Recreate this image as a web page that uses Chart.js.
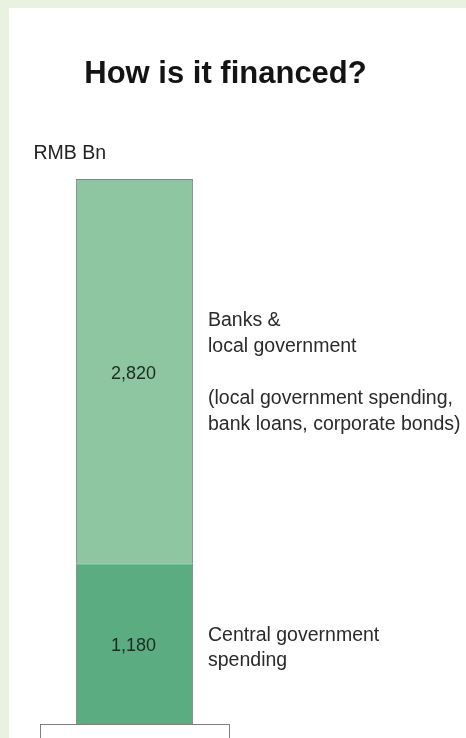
<!DOCTYPE html>
<html><head><meta charset="utf-8">
<script src="https://cdn.jsdelivr.net/npm/chart.js@4.4.1/dist/chart.umd.min.js"></script>
<style>
html,body{margin:0;padding:0;background:#e9f2e1;overflow:hidden}
#wrap{position:absolute;left:0;top:0;width:466px;height:738px}
</style>
</head><body>
<div id="wrap"><canvas id="c"></canvas></div>
<script>
// ---- data ----
const categories = ['Financing'];
const seriesNames = ['Central government spending', 'Banks & local government'];
const centralValues = [1180];
const banksValues = [2820];
const totalMax = 4000;
const titleText = 'How is it financed?';
const unitLabel = 'RMB Bn';
const centralNote = ['Central government', 'spending'];
const banksNote = ['Banks &', 'local government', '', '(local government spending,', 'bank loans, corporate bonds)'];

const FONT = '"Liberation Sans", Arial, Helvetica, sans-serif';
const fmt = v => v.toLocaleString('en-US');

const backgroundPlugin = {
  id: 'bg',
  beforeDraw(chart) {
    const ctx = chart.ctx;
    ctx.save();
    ctx.fillStyle = '#e9f2e1';
    ctx.fillRect(0, 0, chart.width, chart.height);
    ctx.fillStyle = '#ffffff';
    ctx.fillRect(9, 8, chart.width - 9, chart.height - 8);
    ctx.restore();
  }
};

const textPlugin = {
  id: 'texts',
  afterDraw(chart) {
    const ctx = chart.ctx;
    ctx.save();
    // title
    ctx.fillStyle = '#141414';
    ctx.font = 'bold 31px ' + FONT;
    ctx.textAlign = 'center';
    ctx.textBaseline = 'alphabetic';
    ctx.fillText(titleText, 225.5, 83);
    // unit
    ctx.fillStyle = '#222222';
    ctx.font = '19.5px ' + FONT;
    ctx.textAlign = 'left';
    ctx.fillText(unitLabel, 33.5, 159);

    const notes = [
      { lines: centralNote, off: -3, lh: 25 },
      { lines: banksNote, off: -45, lh: 26 }
    ];
    chart.data.datasets.forEach((ds, i) => {
      const bar = chart.getDatasetMeta(i).data[0];
      if (!bar) return;
      const mid = (bar.y + bar.base) / 2;
      // value label
      ctx.fillStyle = '#1e2a22';
      ctx.font = '18px ' + FONT;
      ctx.textAlign = 'center';
      ctx.fillText(fmt(ds.data[0]), bar.x - 1, mid + 0.36 * 18 + 1);
      // annotation
      ctx.fillStyle = '#2a2a2a';
      ctx.font = '19.5px ' + FONT;
      ctx.textAlign = 'left';
      const n = notes[i];
      n.lines.forEach((t, k) => {
        if (t) ctx.fillText(t, 208, mid + n.off + k * n.lh);
      });
    });
    ctx.restore();
  }
};

new Chart(document.getElementById('c'), {
  type: 'bar',
  data: {
    labels: categories,
    datasets: [
      { label: seriesNames[0], data: centralValues, backgroundColor: '#5bac81', borderColor: '#7c8a82', borderWidth: 1, barPercentage: 0.62, categoryPercentage: 1 },
      { label: seriesNames[1], data: banksValues, backgroundColor: '#8ec6a1', borderColor: '#7c8a82', borderWidth: 1, barPercentage: 0.62, categoryPercentage: 1 }
    ]
  },
  options: {
    responsive: true,
    maintainAspectRatio: false,
    animation: false,
    layout: { padding: { left: 40, right: 237, top: 179, bottom: 0 } },
    plugins: { legend: { display: false }, tooltip: { enabled: false } },
    scales: {
      x: {
        stacked: true,
        offset: true,
        grid: { offset: true, drawOnChartArea: false, drawTicks: true, tickLength: 14, color: '#808080', lineWidth: 1 },
        border: { display: true, color: '#808080', width: 1 },
        ticks: { display: false }
      },
      y: { stacked: true, display: false, min: 0, max: totalMax }
    }
  },
  plugins: [backgroundPlugin, textPlugin]
});
</script>
</body></html>
